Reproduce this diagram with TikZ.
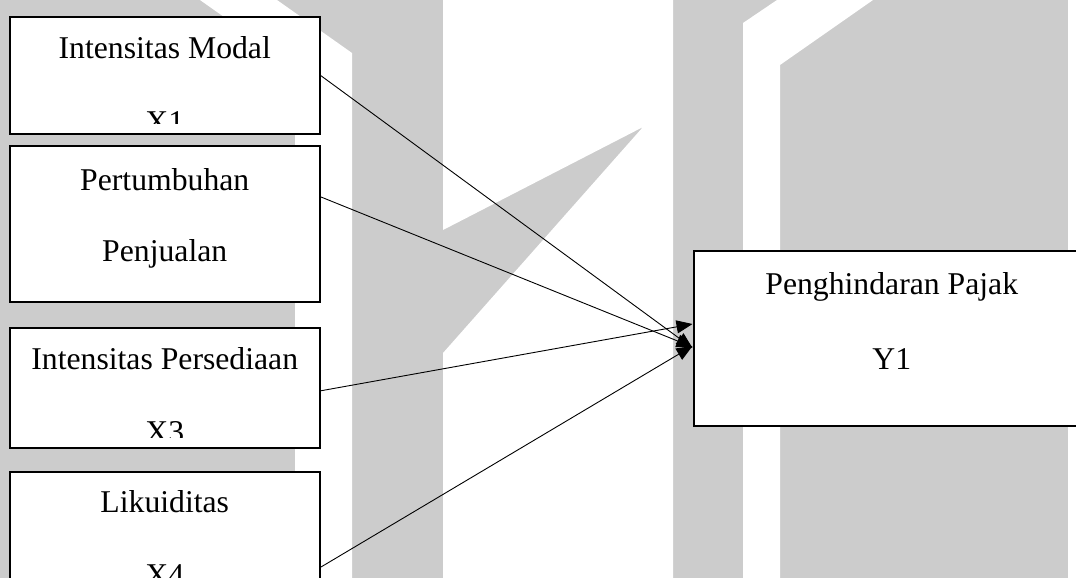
\documentclass[tikz,border=0pt]{standalone}
\usepackage{fontspec}
\setmainfont{Liberation Serif}
\usetikzlibrary{arrows.meta,calc}
\definecolor{wmgray}{RGB}{204,204,204}
\tikzset{
  varbox/.style={draw=black, line width=2pt, fill=white, rectangle, inner sep=0pt},
  txt/.style={anchor=base, inner sep=0pt, font=\fontsize{31.7}{38}\selectfont},
  link/.style={line width=0.9pt, -{Triangle[length=16pt,width=13pt]}},
}
\begin{document}
\begin{tikzpicture}[x=1pt,y=-1pt]
\useasboundingbox (0,0) rectangle (1076,578);
\clip (0,0) rectangle (1076,578);

% watermark logo in the background
\fill[wmgray] (0,0) rectangle (1076,578);
\fill[white] (200,0) -- (277,0) -- (352,53) -- (352,578) -- (295,578) -- (295,67) -- cycle;
\fill[white] (443,0) -- (673,0) -- (673,578) -- (443,578) -- (443,353) -- (643,127) -- (443,230) -- cycle;
\fill[white] (777,0) -- (873,0) -- (780,65) -- (780,578) -- (743,578) -- (743,23) -- cycle;
\fill[white] (1068,0) rectangle (1076,578);

% variable boxes
\node[varbox, minimum width=310.5pt, minimum height=116.5pt] (b1) at (164.75,75.75) {};
\node[varbox, minimum width=310.5pt, minimum height=156pt]   (b2) at (164.75,224) {};
\node[varbox, minimum width=310.5pt, minimum height=119.5pt] (b3) at (164.75,387.75) {};
\node[varbox, minimum width=310.5pt, minimum height=118.5pt] (b4) at (164.75,530.75) {};
\node[varbox, minimum width=396.5pt, minimum height=175pt]   (y1) at (891.75,338) {};

% box texts, each cut off at its text area
\begin{scope}
  \clip (11,19) rectangle (318,123.5);
  \node[txt] (t1a) at (164.75,58.5) {Intensitas Modal};
  \node[txt] (t1b) at (164.75,132.5) {X1};
\end{scope}
\begin{scope}
  \clip (11,148) rectangle (318,291);
  \node[txt] (t2a) at (164.75,190) {Pertumbuhan};
  \node[txt] (t2b) at (164.75,261.5) {Penjualan};
\end{scope}
\begin{scope}
  \clip (11,330) rectangle (318,437);
  \node[txt] (t3a) at (164.75,369.3) {Intensitas Persediaan};
  \node[txt] (t3b) at (164.75,442.7) {X3};
\end{scope}
\begin{scope}
  \clip (11,473) rectangle (318,578);
  \node[txt] (t4a) at (164.75,512.7) {Likuiditas};
  \node[txt] (t4b) at (164.75,585.5) {X4};
\end{scope}
\node[txt] (tya) at (891.75,294.5) {Penghindaran Pajak};
\node[txt] (tyb) at (891.75,369.3) {Y1};

% paths of influence
\draw[link] (b1.east) -- ([yshift=-10pt]y1.west);
\draw[link] ([yshift=27pt]b2.east) -- ([yshift=-9pt]y1.west);
\draw[link] ([yshift=-3pt]b3.east) -- ([yshift=14pt]y1.west);
\draw[link] ([yshift=-96.5pt]b4.north east) -- ([yshift=-8pt]y1.west);
\end{tikzpicture}
\end{document}
